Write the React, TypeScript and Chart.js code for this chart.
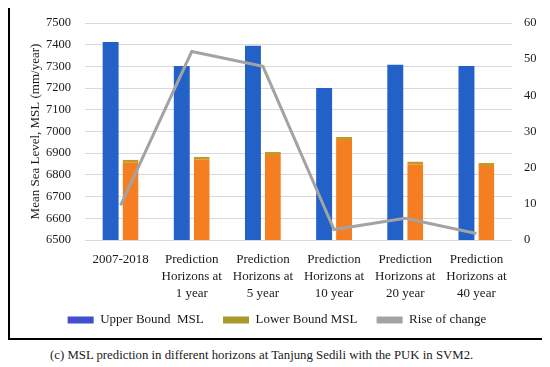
import React, { useEffect, useRef } from 'react';
import { Chart, registerables } from 'chart.js';

Chart.register(...registerables);

const categories: string[][] = [
  ['2007-2018'],
  ['Prediction', 'Horizons at', '1 year'],
  ['Prediction', 'Horizons at', '5 year'],
  ['Prediction', 'Horizons at', '10 year'],
  ['Prediction', 'Horizons at', '20 year'],
  ['Prediction', 'Horizons at', '40 year'],
];
const upperBoundMSL = [7412, 7302, 7395, 7200, 7308, 7302];
const lowerBoundMSL = [6870, 6884, 6905, 6975, 6862, 6855];
const riseOfChange = [9.6, 52.1, 48.0, 2.9, 6.0, 1.8];

const leftAxisMin = 6500;
const leftAxisMax = 7500;
const leftAxisStep = 100;
const rightAxisMin = 0;
const rightAxisMax = 60;
const rightAxisStep = 10;

const seriesNames = ['Upper Bound  MSL', 'Lower Bound MSL', 'Rise of change'];
const yTitle = 'Mean Sea Level, MSL (mm/year)';
const caption = '(c) MSL prediction in different horizons at Tanjung Sedili with the PUK in SVM2.';

const FONT = 'Liberation Serif';
const TEXT = '#1a1a1a';

export default function App() {
  const ref = useRef<HTMLCanvasElement | null>(null);

  useEffect(() => {
    if (!ref.current) return;
    const chart = new Chart(ref.current, {
      type: 'bar',
      data: {
        labels: categories,
        datasets: [
          {
            type: 'bar',
            label: seriesNames[0],
            data: upperBoundMSL,
            backgroundColor: '#2361c8',
            borderWidth: 0,
            yAxisID: 'y',
            order: 1,
            categoryPercentage: 0.56,
            barPercentage: 0.8,
          },
          {
            type: 'bar',
            label: seriesNames[1],
            data: lowerBoundMSL,
            backgroundColor: '#f57d22',
            borderColor: '#c49a24',
            borderWidth: { top: 3, left: 0, right: 0, bottom: 0 },
            borderSkipped: 'start',
            yAxisID: 'y',
            order: 1,
            categoryPercentage: 0.56,
            barPercentage: 0.8,
          },
          {
            type: 'line',
            label: seriesNames[2],
            data: riseOfChange,
            borderColor: '#a3a3a3',
            backgroundColor: '#a3a3a3',
            borderWidth: 3,
            pointRadius: 0,
            tension: 0,
            yAxisID: 'y1',
            order: 0,
          },
        ] as any,
      },
      options: {
        responsive: false,
        animation: false,
        layout: { padding: { top: 23, bottom: 1.5, left: 0, right: 0 } },
        plugins: {
          tooltip: { enabled: false },
          legend: {
            position: 'bottom',
            labels: {
              font: { family: FONT, size: 13 },
              color: TEXT,
              boxWidth: 26,
              boxHeight: 7,
              padding: 9.5,
              sort: (a: any, b: any) => a.datasetIndex - b.datasetIndex,
              generateLabels: (c: any) => {
                const items = Chart.defaults.plugins.legend.labels.generateLabels(c);
                const fills = ['#3f4fd0', '#a89a2a', '#a3a3a3'];
                return items.map((it: any) => ({
                  ...it,
                  text: it.datasetIndex < 2 ? it.text + '   ' : it.text,
                  fillStyle: fills[it.datasetIndex],
                  strokeStyle: fills[it.datasetIndex],
                  lineWidth: 0,
                }));
              },
            },
          },
        },
        scales: {
          x: {
            grid: { display: false, drawTicks: false },
            border: { display: false },
            ticks: {
              font: { family: FONT, size: 13, lineHeight: 1.3 },
              color: TEXT,
              padding: 11,
              maxRotation: 0,
              autoSkip: false,
            },
            afterFit: (axis: any) => {
              axis.height = 64;
            },
          },
          y: {
            position: 'left',
            min: leftAxisMin,
            max: leftAxisMax,
            grid: { color: '#d9d9d9', drawTicks: false, lineWidth: 1 },
            border: { display: false },
            ticks: {
              stepSize: leftAxisStep,
              font: { family: FONT, size: 12.5 },
              color: TEXT,
              padding: 14,
              callback: (v: any) => String(v),
            },
            title: {
              display: true,
              text: yTitle,
              font: { family: FONT, size: 13 },
              color: TEXT,
              padding: { top: 18, bottom: 0 },
            },
            afterFit: (axis: any) => {
              axis.width = 75;
            },
          },
          y1: {
            position: 'right',
            min: rightAxisMin,
            max: rightAxisMax,
            grid: { display: false, drawTicks: false },
            border: { display: false },
            ticks: {
              stepSize: rightAxisStep,
              font: { family: FONT, size: 12.5 },
              color: TEXT,
              padding: 12,
              callback: (v: any) => String(v),
            },
            afterFit: (axis: any) => {
              axis.width = 32;
            },
          },
        },
      },
    });
    return () => chart.destroy();
  }, []);

  return (
    <div>
      <div
        style={{
          marginTop: -8,
          width: 534,
          height: 338,
          borderLeft: '2px solid #000',
          borderRight: '2px solid #000',
          borderBottom: '2px solid #000',
        }}
      >
        <canvas ref={ref} width={534} height={338} style={{ display: 'block' }} />
      </div>
      <div
        style={{
          marginTop: 8,
          paddingLeft: 42,
          fontFamily: FONT,
          fontSize: 12.8,
          lineHeight: '14px',
          color: TEXT,
          whiteSpace: 'nowrap',
        }}
      >
        {caption}
      </div>
    </div>
  );
}
